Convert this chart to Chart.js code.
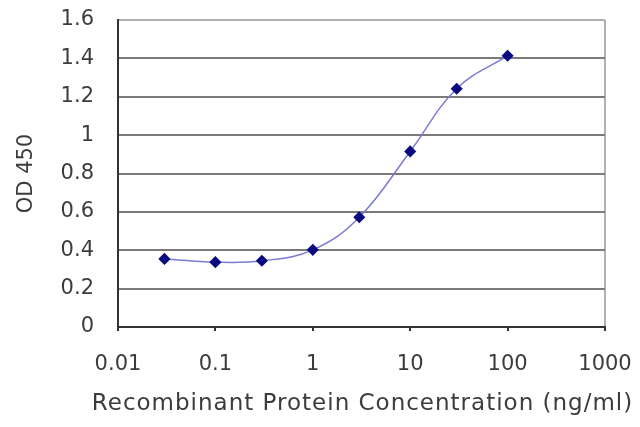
<!DOCTYPE html>
<html>
<head>
<meta charset="utf-8">
<script src="https://cdn.jsdelivr.net/npm/chart.js@4"></script>
<style>
  html, body { margin: 0; padding: 0; background: #fff; }
  #wrap { width: 640px; height: 427px; }
</style>
</head>
<body>
<div id="wrap"><canvas id="odChart"></canvas></div>
<script>
// data
const concentrations = [0.03, 0.1, 0.3, 1, 3, 10, 30, 100];
const od450 = [0.355, 0.338, 0.345, 0.402, 0.572, 0.915, 1.242, 1.414];
const xTicks = [0.01, 0.1, 1, 10, 100, 1000];
const xTickLabels = ["0.01", "0.1", "1", "10", "100", "1000"];
const yTicks = [0, 0.2, 0.4, 0.6, 0.8, 1, 1.2, 1.4, 1.6];
const yTickLabels = ["0", "0.2", "0.4", "0.6", "0.8", "1", "1.2", "1.4", "1.6"];
const xTitle = "Recombinant Protein Concentration (ng/ml)";
const yTitle = "OD 450";

const tickFont = { family: "'DejaVu Sans', sans-serif", size: 21 };
const textColor = "#3c3c3c";

// keep the plot area where the picture has it
const noPad = (s) => {
  s.paddingTop = 0;
  s.paddingBottom = 0;
  s.paddingLeft = 0;
  s.paddingRight = 0;
};

// x title is wide in the picture, draw it here with a little spacing
const xTitlePlugin = {
  id: "xTitle",
  afterDraw(chart) {
    const { ctx, chartArea } = chart;
    ctx.save();
    ctx.font = "23px 'DejaVu Sans', sans-serif";
    ctx.letterSpacing = "1px";
    ctx.fillStyle = textColor;
    ctx.textAlign = "center";
    ctx.textBaseline = "middle";
    ctx.fillText(xTitle, (chartArea.left + chartArea.right) / 2 + 1, chartArea.bottom + 77);
    ctx.restore();
  },
};

new Chart(document.getElementById("odChart"), {
  type: "line",
  data: {
    datasets: [
      {
        label: yTitle,
        data: concentrations.map((c, i) => ({ x: c, y: od450[i] })),
        borderColor: "#7a7ad0",
        borderWidth: 1.5,
        tension: 0.4,
        pointStyle: "rectRot",
        pointRadius: 5,
        pointBackgroundColor: "#0a0a80",
        pointBorderColor: "#0a0a80",
      },
    ],
  },
  plugins: [xTitlePlugin],
  options: {
    responsive: true,
    maintainAspectRatio: false,
    animation: false,
    layout: { padding: { left: 0, top: 20, right: 35, bottom: 0 } },
    plugins: { legend: { display: false }, tooltip: { enabled: false } },
    scales: {
      x: {
        type: "logarithmic",
        min: 0.01,
        max: 1000,
        afterBuildTicks: (s) => { s.ticks = xTicks.map((v) => ({ value: v })); },
        afterFit: (s) => { s.height = 100; noPad(s); },
        ticks: {
          callback: (v, i) => xTickLabels[i],
          color: textColor,
          font: tickFont,
          padding: 21,
          maxRotation: 0,
        },
        grid: {
          color: (c) => (c.index === xTicks.length - 1 ? "#b0b0b0" : "rgba(0,0,0,0)"),
          lineWidth: 2,
          tickLength: 4,
          tickColor: "#333",
        },
        border: { color: "#333", width: 2 },
      },
      y: {
        min: 0,
        max: 1.6,
        afterBuildTicks: (s) => { s.ticks = yTicks.map((v) => ({ value: v })); },
        afterFit: (s) => { s.width = 118; noPad(s); },
        ticks: {
          callback: (v, i) => yTickLabels[i],
          color: textColor,
          font: tickFont,
          padding: 24,
        },
        grid: {
          color: (c) => (c.index === yTicks.length - 1 ? "#b0b0b0" : "#7a7a7a"),
          lineWidth: 2,
          drawTicks: false,
        },
        border: { color: "#333", width: 2 },
        title: {
          display: true,
          text: yTitle,
          color: textColor,
          font: tickFont,
          padding: { top: 14, bottom: 0 },
        },
      },
    },
  },
});
</script>
</body>
</html>
